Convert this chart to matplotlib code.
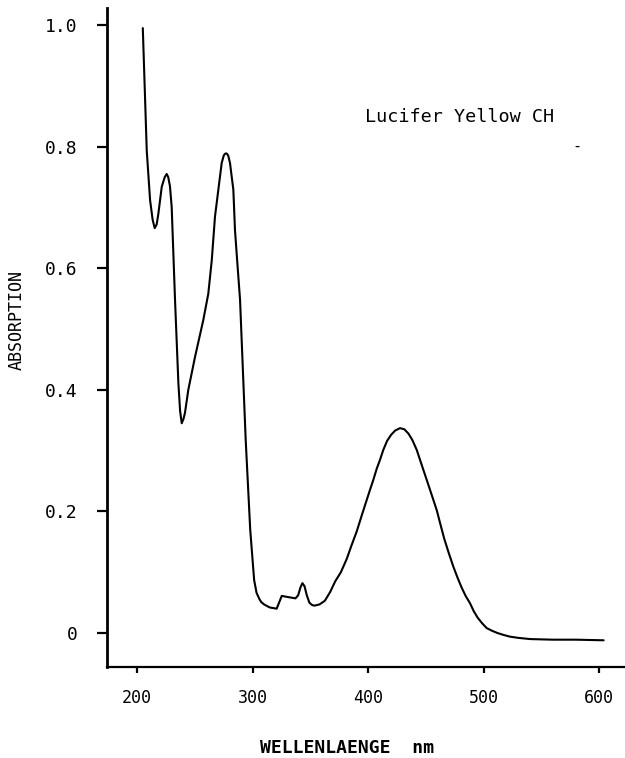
import matplotlib
matplotlib.use("Agg")
import matplotlib.pyplot as plt

# ---- data ----
wavelength = [205, 208.4, 211.3, 213.5, 215.3, 217, 218.5, 221.4, 224, 225.7,
              227, 228.5, 230, 232.9, 235.8, 237.3, 238.7, 240.2, 241.5, 244.4,
              250.2, 257.4, 261.7, 264.7, 267.5, 270.4, 273.3, 275, 276, 277.1,
              278, 279, 280.5, 283.4, 284.8, 286.8, 289.2, 294.1, 298, 301.4,
              303.5, 305.9, 307.5, 310, 314.9, 320.9, 323, 325.3, 331, 337.2,
              339.5, 341.5, 343.2, 345, 347, 349.2, 351.5, 353.7, 358, 362.6,
              367.1, 371.6, 376.5, 381.6, 385.5, 390.2, 394.5, 398.9, 401.8, 404.6,
              407.5, 410.4, 413.2, 416.5, 420, 423.5, 427.7, 431.5, 435, 438.5,
              442.2, 445, 447.8, 450.8, 455, 459.5, 462.5, 466, 470, 473.9,
              477.5, 481, 484.5, 488.3, 491.5, 495, 498.8, 502.8, 507, 512,
              517, 522.9, 530, 540.3, 560, 580, 604]
absorption = [0.995, 0.794, 0.712, 0.680, 0.666, 0.672, 0.690, 0.734, 0.750, 0.755,
              0.750, 0.735, 0.701, 0.548, 0.411, 0.365, 0.345, 0.352, 0.362, 0.400,
              0.454, 0.515, 0.558, 0.613, 0.685, 0.729, 0.773, 0.785, 0.788, 0.789,
              0.788, 0.785, 0.773, 0.729, 0.663, 0.610, 0.548, 0.317, 0.170, 0.087,
              0.066, 0.056, 0.051, 0.047, 0.042, 0.040, 0.050, 0.061, 0.059, 0.057,
              0.062, 0.075, 0.082, 0.077, 0.062, 0.050, 0.046, 0.045, 0.047, 0.053,
              0.067, 0.085, 0.100, 0.122, 0.143, 0.167, 0.193, 0.219, 0.236, 0.252,
              0.270, 0.285, 0.301, 0.316, 0.326, 0.333, 0.337, 0.335, 0.328, 0.317,
              0.301, 0.285, 0.269, 0.252, 0.228, 0.202, 0.180, 0.155, 0.131, 0.109,
              0.091, 0.075, 0.061, 0.049, 0.036, 0.025, 0.016, 0.008, 0.004, 0.000,
              -0.003, -0.006, -0.008, -0.010, -0.011, -0.011, -0.012]

xticks = [200, 300, 400, 500, 600]
yticks = [0, 0.2, 0.4, 0.6, 0.8, 1.0]
ytick_labels = ["0", "0.2", "0.4", "0.6", "0.8", "1.0"]

plt.rcParams["font.family"] = ["DejaVu Sans Mono", "DejaVu Sans"]

fig = plt.figure(figsize=(6.25, 7.58), dpi=100)
ax = fig.add_axes([0.1712, 0.12, 0.8288, 0.8694])

ax.plot(wavelength, absorption, color="black", lw=1.5,
        solid_joinstyle="round", solid_capstyle="round")

ax.set_xlim(174, 622.5)
ax.set_ylim(-0.056, 1.028)

ax.spines["top"].set_visible(False)
ax.spines["right"].set_visible(False)
ax.spines["left"].set_linewidth(2.0)
ax.spines["bottom"].set_linewidth(1.6)

ax.set_xticks(xticks)
ax.set_xticklabels([str(t) for t in xticks])
ax.set_yticks(yticks)
ax.set_yticklabels(ytick_labels)
ax.tick_params(axis="y", direction="out", length=7, width=1.6, pad=14, labelsize=13)
ax.tick_params(axis="x", direction="out", length=4, width=1.6, pad=12, labelsize=12)

ax.text(397.4, 0.849, "Lucifer Yellow CH", fontsize=13.3, ha="left", va="center")
ax.text(581, 0.80, "-", fontsize=11, ha="center", va="center")

fig.text(17 / 625, 1 - 320 / 758, "ABSORPTION", rotation=90, fontsize=12,
         ha="center", va="center")
fig.text(260 / 625, 1 - 748 / 758, "WELLENLAENGE  nm", fontsize=13,
         ha="left", va="center", fontweight="bold")

fig.savefig("out.png", dpi=100)
